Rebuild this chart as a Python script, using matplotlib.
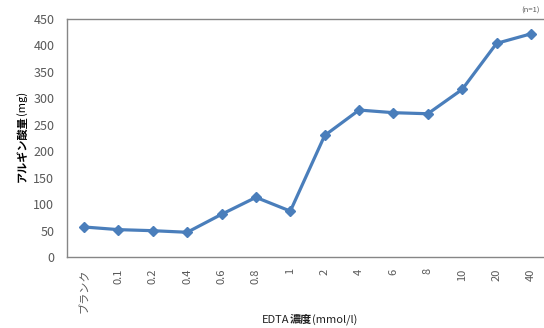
import matplotlib
matplotlib.use("Agg")
import matplotlib.pyplot as plt

plt.rcParams['font.family'] = ['Noto Sans CJK JP', 'DejaVu Sans']

# EDTA濃度ごとのアルギン酸量
categories = ['ブランク', '0.1', '0.2', '0.4', '0.6', '0.8', '1', '2', '4', '6', '8', '10', '20', '40']
alginate_mg = [57, 52, 50, 47, 81, 113, 87, 230, 278, 273, 271, 317, 404, 422]

W, H = 544, 328
fig = plt.figure(figsize=(W / 100, H / 100), dpi=100)
ax = fig.add_axes([0.123, 0.216, 0.877, 0.726])

x = list(range(len(categories)))
ax.plot(x, alginate_mg, color='#4A7EBB', linewidth=2.3, marker='D', markersize=5,
        markerfacecolor='#4A7EBB', markeredgecolor='#4A7EBB')

ax.set_xlim(-0.5, 13.38)
ax.set_ylim(0, 450)
ax.set_yticks(range(0, 451, 50))
ax.set_xticks(x)
ax.set_xticklabels(categories, rotation=90, fontsize=8, color='#595959')
ax.tick_params(axis='y', labelsize=9, colors='#595959', length=0, pad=9)
ax.tick_params(axis='x', length=0, pad=8)

for side in ['left', 'top', 'bottom']:
    ax.spines[side].set_color('#868686')
    ax.spines[side].set_linewidth(1.0)
ax.spines['right'].set_visible(False)


def place_pieces(pieces, x0, y0, rotation=0, size=8.5):
    # 太字と普通の文字を並べて描く (x0, y0 はピクセル, 上から)
    fig.canvas.draw()
    r = fig.canvas.get_renderer()
    pos = x0 if rotation == 0 else y0
    for text, weight in pieces:
        if rotation == 0:
            t = fig.text(pos / W, 1 - y0 / H, text, fontsize=size, fontweight=weight,
                         ha='left', va='baseline', color='#222222')
            pos += t.get_window_extent(r).width
        else:
            t = fig.text(x0 / W, 1 - pos / H, text, fontsize=size, fontweight=weight,
                         rotation=90, ha='center', va='bottom', color='#000000')
            pos -= t.get_window_extent(r).height


place_pieces([('アルギン酸量', 'bold'), ('(mg)', 'normal')], 22, 182, rotation=90, size=8)
place_pieces([('EDTA', 'normal'), ('濃度', 'bold'), ('(mmol/l)', 'normal')], 262, 323, size=8)
fig.text(0.993, 0.955, '(n=1)', fontsize=5.5, ha='right', va='bottom', color='#595959')

fig.savefig('out.png', dpi=100)
